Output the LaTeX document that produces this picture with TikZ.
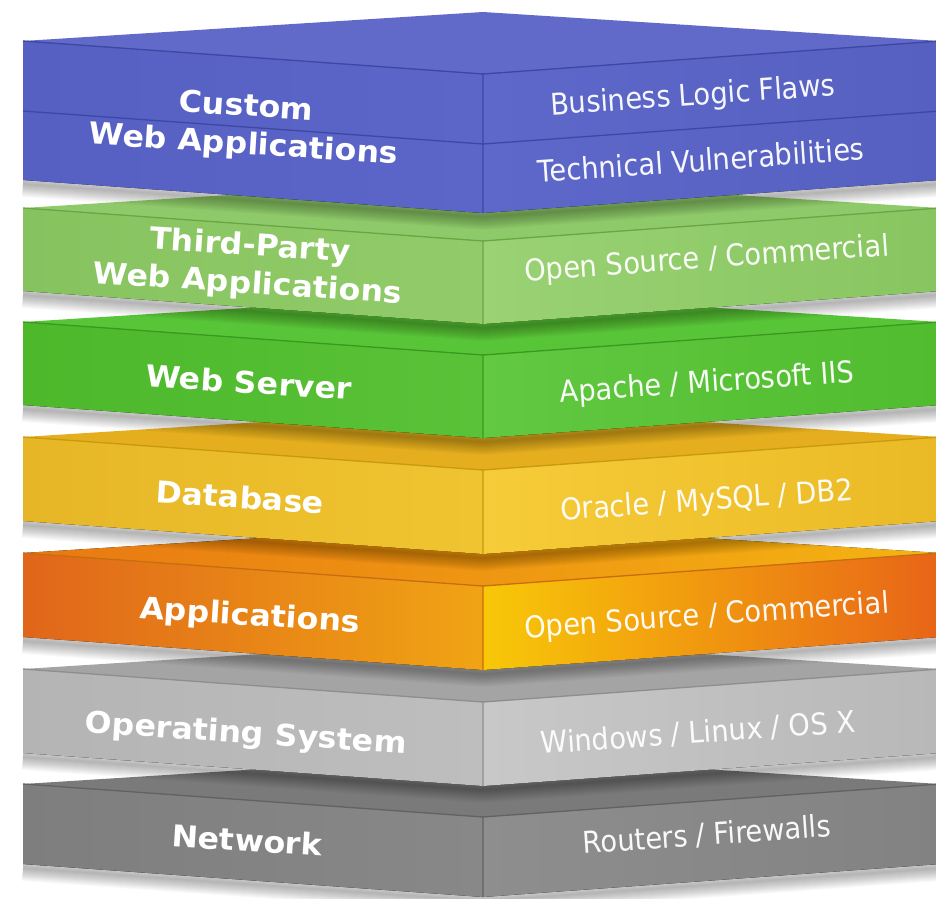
\documentclass[tikz,border=0pt]{standalone}
\usepackage{fontspec}
\setmainfont{DejaVu Sans}
\usetikzlibrary{calc}

% colours of the seven layers: top face, left face (two stops), right face (two stops), edge
\definecolor{bluetop}{HTML}{6169C9}
\definecolor{blueLa}{HTML}{5560C2}
\definecolor{blueLb}{HTML}{5C66C8}
\definecolor{blueRa}{HTML}{5E68CA}
\definecolor{blueRb}{HTML}{5560C0}
\definecolor{blueedge}{HTML}{3E47A3}

\definecolor{ltgtop}{HTML}{8FCA6A}
\definecolor{ltgLa}{HTML}{86C35F}
\definecolor{ltgLb}{HTML}{92CC6A}
\definecolor{ltgRa}{HTML}{9AD274}
\definecolor{ltgRb}{HTML}{88C560}
\definecolor{ltgedge}{HTML}{6AA646}

\definecolor{grntop}{HTML}{58C438}
\definecolor{grnLa}{HTML}{4CB82A}
\definecolor{grnLb}{HTML}{5AC238}
\definecolor{grnRa}{HTML}{62C942}
\definecolor{grnRb}{HTML}{50BC2E}
\definecolor{grnedge}{HTML}{3A9A20}

\definecolor{yeltop}{HTML}{E4AE1E}
\definecolor{yelLa}{HTML}{E6B626}
\definecolor{yelLb}{HTML}{F0C430}
\definecolor{yelRa}{HTML}{F6CC38}
\definecolor{yelRb}{HTML}{EABA26}
\definecolor{yeledge}{HTML}{C89A10}

\definecolor{orgtopA}{HTML}{E87812}
\definecolor{orgtopB}{HTML}{F4B412}
\definecolor{orgLa}{HTML}{E0661A}
\definecolor{orgLb}{HTML}{F0A414}
\definecolor{orgRa}{HTML}{F8C808}
\definecolor{orgRb}{HTML}{E86418}
\definecolor{orgedge}{HTML}{C86E10}

\definecolor{ostop}{HTML}{A4A4A4}
\definecolor{osLa}{HTML}{B4B4B4}
\definecolor{osLb}{HTML}{BEBEBE}
\definecolor{osRa}{HTML}{C8C8C8}
\definecolor{osRb}{HTML}{B8B8B8}
\definecolor{osedge}{HTML}{8E8E8E}

\definecolor{nettop}{HTML}{7A7A7A}
\definecolor{netLa}{HTML}{7E7E7E}
\definecolor{netLb}{HTML}{888888}
\definecolor{netRa}{HTML}{8E8E8E}
\definecolor{netRb}{HTML}{828282}
\definecolor{netedge}{HTML}{626262}

% one slab: #1 top y at the side corners, #2 thickness,
% #3 top fill options, #4/#5 left face colours, #6/#7 right face colours, #8 edge colour
\newcommand\layer[8]{%
  \pgfmathsetmacro\yt{#1}%
  \pgfmathsetmacro\yf{#1+33}%
  \pgfmathsetmacro\yb{#1-29}%
  \pgfmathsetmacro\ysb{#1+#2}%
  \pgfmathsetmacro\yfb{#1+33+#2}%
  % soft shadow below the slab
  \foreach \w in {2,4,...,26}
    \draw[black,opacity=0.024,line width=\w pt]
      (23,\ysb+4) -- (483,\yfb+4) -- (940,\ysb+4);
  % top face
  \fill[#3] (23,\yt) -- (483,\yb) -- (940,\yt) -- (483,\yf) -- cycle;
  % front faces
  \fill[left color=#4,right color=#5]
    (23,\yt) -- (483,\yf) -- (483,\yfb) -- (23,\ysb) -- cycle;
  \fill[left color=#6,right color=#7]
    (483,\yf) -- (940,\yt) -- (940,\ysb) -- (483,\yfb) -- cycle;
  % edges
  \draw[#8,line width=1.3pt,line join=round]
    (23,\yt) -- (483,\yf) -- (940,\yt) (483,\yf) -- (483,\yfb);
}

\tikzset{
  lbl/.style={text=white,font=\bfseries\fontsize{30}{38}\selectfont,
    align=center,inner sep=0pt,rotate=-3.7,xscale=1.055},
  rlbl/.style={text=white,font=\fontsize{30}{34}\selectfont,
    inner sep=0pt,rotate=4,xscale=0.91,opacity=0.95}
}

\begin{document}
\begin{tikzpicture}[x=1pt,y=-1pt]
  \useasboundingbox[fill=white] (0,0) rectangle (936,898);
  \clip (0,0) rectangle (936,898);

  % layers from the bottom up
  \layer{784}{80}{fill=nettop}{netLa}{netLb}{netRa}{netRb}{netedge}
  \layer{669}{84}{fill=ostop}{osLa}{osLb}{osRa}{osRb}{osedge}
  \layer{553}{84}{left color=orgtopA,right color=orgtopB}{orgLa}{orgLb}{orgRa}{orgRb}{orgedge}
  \layer{437}{84}{fill=yeltop}{yelLa}{yelLb}{yelRa}{yelRb}{yeledge}
  \layer{322}{83}{fill=grntop}{grnLa}{grnLb}{grnRa}{grnRb}{grnedge}
  \layer{208}{83}{fill=ltgtop}{ltgLa}{ltgLb}{ltgRa}{ltgRb}{ltgedge}
  \layer{41}{139}{fill=bluetop}{blueLa}{blueLb}{blueRa}{blueRb}{blueedge}
  % split of the top slab into two rows
  \draw[blueedge,line width=1.3pt,line join=round]
    (23,111) -- (483,144) -- (940,111);

  % layer names
  \node[lbl] (custom) at (245,127) {Custom\\Web Applications};
  \node[lbl] (third)  at (249,266) {Third-Party\\Web Applications};
  \node[lbl] (websrv) at (249,382) {Web Server};
  \node[lbl] (db)     at (240,497) {Database};
  \node[lbl] (apps)   at (250,617) {Applications};
  \node[lbl] (os)     at (246,735) {Operating System};
  \node[lbl] (net)    at (247,840) {Network};

  % examples on the right faces
  \node[rlbl] (logic)  at (693,97)  {Business Logic Flaws};
  \node[rlbl] (tech)   at (701,160) {Technical Vulnerabilities};
  \node[rlbl] (oss1)   at (707,260) {Open Source / Commercial};
  \node[rlbl] (apache) at (707,384) {Apache / Microsoft IIS};
  \node[rlbl] (oracle) at (707,502) {Oracle / MySQL / DB2};
  \node[rlbl] (oss2)   at (707,617) {Open Source / Commercial};
  \node[rlbl] (win)    at (698,733) {Windows / Linux / OS X};
  \node[rlbl] (rout)   at (707,835) {Routers / Firewalls};
\end{tikzpicture}
\end{document}
